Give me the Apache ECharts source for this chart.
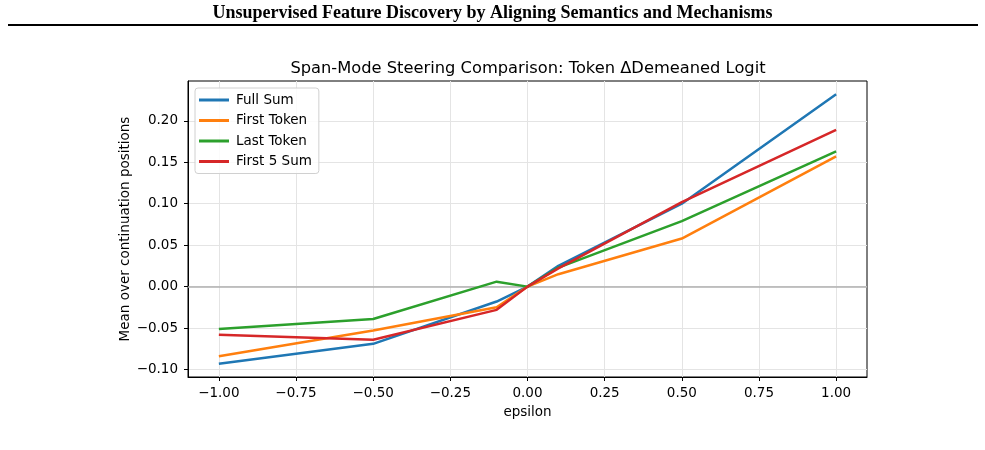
<!DOCTYPE html>
<html>
<head>
<meta charset="utf-8">
<script src="https://cdn.jsdelivr.net/npm/echarts@6/dist/echarts.min.js"></script>
<style>
  html, body { margin: 0; padding: 0; background: #fff; }
  #main { width: 985px; height: 450px; }
</style>
</head>
<body>
<div id="main"></div>
<script>
// values
var epsilon = [-1.0, -0.5, -0.1, 0.0, 0.1, 0.5, 1.0];
var fullSum = [-0.093, -0.069, -0.018, 0.0, 0.025, 0.100, 0.232];
var firstToken = [-0.084, -0.053, -0.025, 0.0, 0.015, 0.058, 0.157];
var lastToken = [-0.051, -0.039, 0.006, 0.0, 0.023, 0.079, 0.163];
var first5Sum = [-0.058, -0.064, -0.028, 0.0, 0.022, 0.102, 0.189];
var xTicks = [-1.0, -0.75, -0.5, -0.25, 0.0, 0.25, 0.5, 0.75, 1.0];
var yTicks = [-0.10, -0.05, 0.0, 0.05, 0.10, 0.15, 0.20];

var names = ["Full Sum", "First Token", "Last Token", "First 5 Sum"];
var colors = ["#1f77b4", "#ff7f0e", "#2ca02c", "#d62728"];
var seriesData = [fullSum, firstToken, lastToken, first5Sum];

function fmt(v) {
  return v.toFixed(2).replace("-", "\u2212");
}

var font = "DejaVu Sans";

var series = seriesData.map(function (vals, i) {
  return {
    name: names[i],
    type: "line",
    data: epsilon.map(function (x, j) { return [x, vals[j]]; }),
    symbol: "none",
    lineStyle: { width: 2.5, color: colors[i] },
    itemStyle: { color: colors[i] },
    z: 3 + i
  };
});
// zero reference line
series[0].markLine = {
  silent: true,
  symbol: "none",
  label: { show: false },
  lineStyle: { color: "#b0b0b0", width: 1.5, type: "solid" },
  data: [{ yAxis: 0 }],
  z: 1
};

var myChart = echarts.init(document.getElementById("main"), null, { renderer: "canvas" });
myChart.setOption({
  animation: false,
  textStyle: { fontFamily: font },
  title: {
    text: "Span-Mode Steering Comparison: Token \u0394Demeaned Logit",
    left: 523,
    textAlign: "center",
    top: 56,
    textStyle: { fontFamily: font, fontSize: 16.3, fontWeight: "normal", color: "#000" }
  },
  graphic: [
    {
      type: "text",
      left: "center",
      top: 4,
      style: {
        text: "Unsupervised Feature Discovery by Aligning Semantics and Mechanisms",
        font: "bold 18px 'Liberation Serif'",
        fill: "#000"
      }
    },
    {
      type: "rect",
      shape: { x: 8, y: 24, width: 970, height: 2 },
      style: { fill: "#000" }
    }
  ],
  legend: {
    data: names,
    orient: "vertical",
    left: 195,
    top: 88,
    itemWidth: 30,
    itemHeight: 3,
    itemGap: 6.5,
    padding: [5, 7, 5, 4],
    borderColor: "#d0d0d0",
    borderWidth: 1,
    borderRadius: 3,
    backgroundColor: "rgba(255,255,255,0.85)",
    icon: "rect",
    textStyle: { fontFamily: font, fontSize: 13.5, color: "#000", padding: [0, 0, 0, 2] }
  },
  grid: {
    left: 188,
    right: 118,
    top: 81,
    bottom: 73,
    show: true,
    borderColor: "#000",
    borderWidth: 1,
    containLabel: false
  },
  xAxis: {
    type: "value",
    min: -1.1,
    max: 1.1,
    name: "epsilon",
    nameLocation: "middle",
    nameGap: 28,
    nameMoveOverlap: false,
    nameTextStyle: { fontFamily: font, fontSize: 13.5, color: "#000" },
    axisLine: { show: true, onZero: false, lineStyle: { color: "#000", width: 1 } },
    axisTick: { show: true, length: 4, customValues: xTicks, lineStyle: { color: "#000" } },
    axisLabel: {
      customValues: xTicks,
      formatter: fmt,
      fontFamily: font,
      fontSize: 13.5,
      color: "#000",
      margin: 9
    },
    splitLine: { show: true, lineStyle: { color: "#e4e4e4", width: 1 } }
  },
  yAxis: {
    type: "value",
    min: -0.109,
    max: 0.248,
    name: "Mean over continuation positions",
    nameLocation: "middle",
    nameGap: 56,
    nameMoveOverlap: false,
    nameTextStyle: { fontFamily: font, fontSize: 13.5, color: "#000" },
    axisLine: { show: true, onZero: false, lineStyle: { color: "#000", width: 1 } },
    axisTick: { show: true, length: 4, customValues: yTicks, lineStyle: { color: "#000" } },
    axisLabel: {
      customValues: yTicks,
      formatter: fmt,
      fontFamily: font,
      fontSize: 13.5,
      color: "#000",
      margin: 10
    },
    splitLine: { show: true, lineStyle: { color: "#e4e4e4", width: 1 } }
  },
  series: series
});
</script>
</body>
</html>
